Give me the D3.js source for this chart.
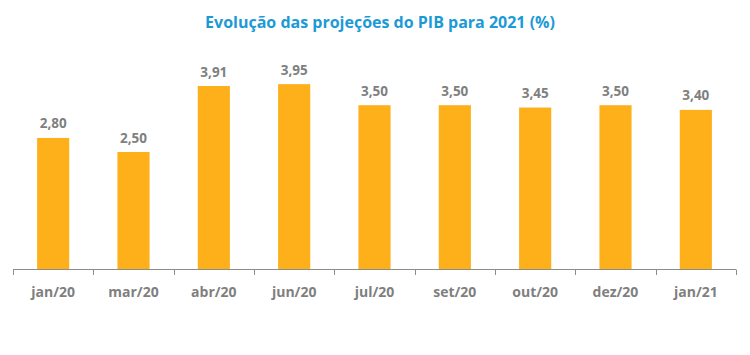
<!DOCTYPE html>
<html><head><meta charset="utf-8">
<script src="https://cdn.jsdelivr.net/npm/d3@7"></script>
<style>body{margin:0;background:#fff}svg{display:block}</style>
</head><body>
<script>
const categories = ["jan/20","mar/20","abr/20","jun/20","jul/20","set/20","out/20","dez/20","jan/21"];
const values = [2.80, 2.50, 3.91, 3.95, 3.50, 3.50, 3.45, 3.50, 3.40];
const title = "Evolução das projeções do PIB para 2021 (%)";

const W = 750, H = 355;
const svg = d3.select("body").append("svg").attr("width", W).attr("height", H);
const font = "'Open Sans', 'Liberation Sans', sans-serif";

const x = d3.scaleBand().domain(categories).range([13, 736]).paddingInner(0.6).paddingOuter(0.3);
const y = d3.scaleLinear().domain([0, 4.5]).range([269, 269 - 46.8 * 4.5]);

svg.append("text").attr("x", 380).attr("y", 28).attr("text-anchor", "middle")
  .attr("font-family", font).attr("font-weight", "bold").attr("font-size", 16)
  .attr("fill", "#1C9AD6").text(title);

svg.selectAll("rect.bar").data(values).join("rect").attr("class","bar")
  .attr("x", (d,i) => x(categories[i])).attr("width", x.bandwidth())
  .attr("y", d => y(d)).attr("height", d => y(0) - y(d))
  .attr("fill", "#FDB01A");

const fmt = d => d3.format(".2f")(d).replace(".", ",");
svg.selectAll("text.val").data(values).join("text").attr("class","val")
  .attr("x", (d,i) => x(categories[i]) + x.bandwidth()/2).attr("y", d => y(d) - 9.5)
  .attr("text-anchor","middle").attr("font-family", font).attr("font-weight","bold")
  .attr("font-size", 13.5).attr("fill", "#7F7F7F").text(fmt);

// axis
const xb = d3.scaleBand().domain(categories).range([13, 736]);
const ax = svg.append("g").attr("transform", "translate(0,269.5)")
  .call(d3.axisBottom(xb).tickSize(0).tickPadding(0).tickFormat(""));
ax.select(".domain").attr("stroke", "#8C8C8C").attr("d", "M13,0H736");
const bounds = categories.map(c => xb(c)).concat([736]);
svg.selectAll("line.tk").data(bounds).join("line").attr("class","tk")
  .attr("x1", d => Math.round(d) + 0.5).attr("x2", d => Math.round(d) + 0.5)
  .attr("y1", 269.5).attr("y2", 275).attr("stroke", "#8C8C8C");
svg.selectAll("text.cat").data(categories).join("text").attr("class","cat")
  .attr("x", d => xb(d) + xb.bandwidth()/2).attr("y", 297)
  .attr("text-anchor","middle").attr("font-family", font).attr("font-weight","bold")
  .attr("font-size", 14).attr("fill", "#7F7F7F").text(d => d);
</script>
</body></html>
